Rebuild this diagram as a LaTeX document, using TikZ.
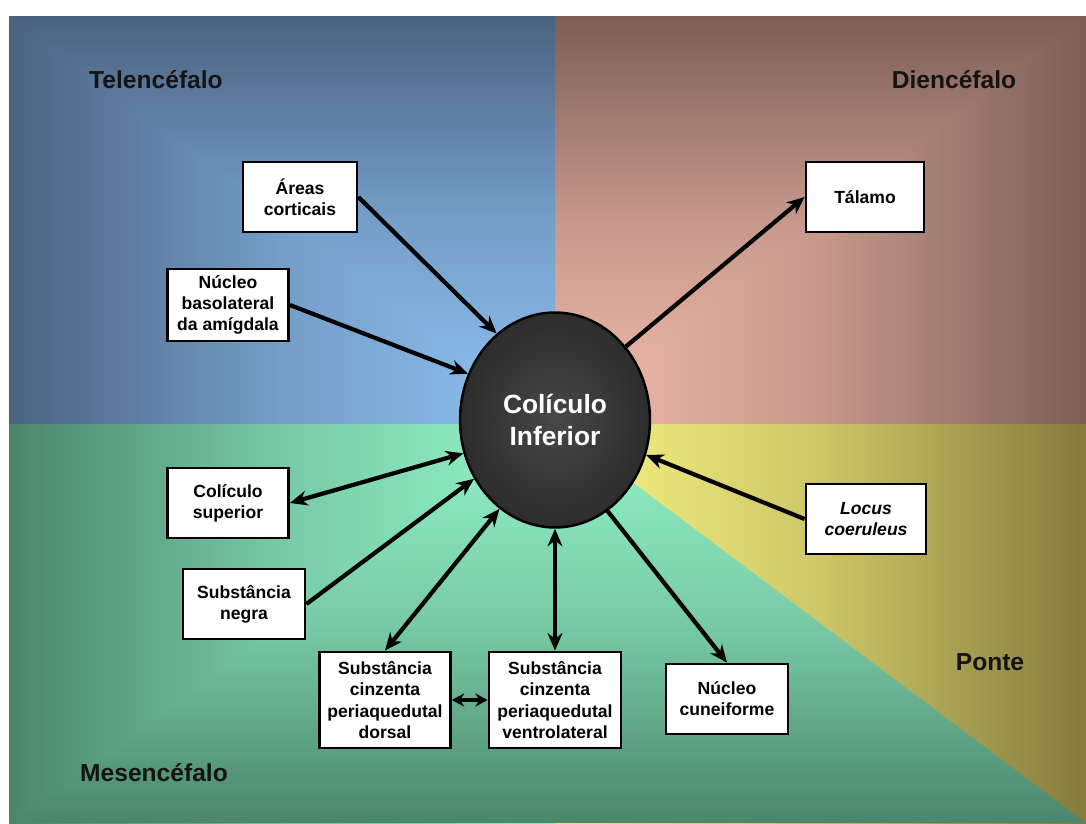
\documentclass[tikz,border=0pt]{standalone}
\usepackage{fontspec}
\setmainfont{Liberation Sans}
\usetikzlibrary{shapes}
\usetikzlibrary{arrows.meta}

\definecolor{telclaro}{HTML}{8FC3F4}
\definecolor{telescuro}{HTML}{4A6280}
\definecolor{dienclaro}{HTML}{F4BCAC}
\definecolor{dienescuro}{HTML}{7B5E56}
\definecolor{mesclaro}{HTML}{93F4C9}
\definecolor{mesescuro}{HTML}{4B866C}
\definecolor{ponclaro}{HTML}{F9F583}
\definecolor{ponescuro}{HTML}{847B3C}
\definecolor{rotulo}{HTML}{141414}

\pgfdeclareradialshading{bolafundo}{\pgfpoint{0bp}{0bp}}{color(0bp)=(black!72); color(50bp)=(black!93)}

\begin{document}
\begin{tikzpicture}[x=0.02cm,y=-0.02cm,>={Stealth[length=10pt,width=8.5pt]},
caixa/.style={rectangle,draw=black,line width=1.6pt,fill=white,align=center,inner sep=2pt,
  minimum height=1.4cm,font=\bfseries\fontsize{10}{12}\selectfont},
regiao/.style={text=rotulo,font=\bfseries\fontsize{14}{16}\selectfont},
bola/.style={ellipse,draw=black,line width=1.4pt,shading=bolafundo,inner sep=0pt,
  minimum width=3.8cm,minimum height=4.3cm,align=center,text=white,
  font=\bfseries\fontsize{15}{18}\selectfont}]

\useasboundingbox (0,0) rectangle (1086,823);
\fill[white] (0,0) rectangle (1086,823);

% fundo das regioes (gradiente a partir do centro)
\coordinate (c) at (555,424);
\shade[left color=telescuro,right color=telclaro,middle color=telclaro!62!telescuro] (9,16) rectangle (555,424);
\shade[top color=telescuro,bottom color=telclaro,middle color=telclaro!62!telescuro] (c)--(555,16)--(9,16)--cycle;
\shade[left color=dienclaro,right color=dienescuro,middle color=dienclaro!62!dienescuro] (555,16) rectangle (1086,424);
\shade[top color=dienescuro,bottom color=dienclaro,middle color=dienclaro!62!dienescuro] (c)--(555,16)--(1086,16)--cycle;
\shade[left color=mesescuro,right color=mesclaro,middle color=mesclaro!62!mesescuro] (9,424) rectangle (555,823);
\shade[top color=mesclaro,bottom color=mesescuro,middle color=mesclaro!62!mesescuro] (c)--(555,823)--(9,823)--cycle;
\shade[left color=ponclaro,right color=ponescuro,middle color=ponclaro!62!ponescuro] (555,424) rectangle (1086,823);
\shade[top color=mesclaro,bottom color=mesescuro,middle color=mesclaro!62!mesescuro] (c)--(555,823)--(1086,823)--cycle;

\node[regiao](tel) at (156,80){Telencéfalo};
\node[regiao](dien) at (954,80){Diencéfalo};
\node[regiao](mes) at (154,773){Mesencéfalo};
\node[regiao](pon) at (990,662){Ponte};

\node[bola](ci) at (555,420){Colículo\\Inferior};

\node[caixa,minimum width=2.28cm](areas) at (300,197){Áreas\\corticais};
\node[caixa,minimum width=2.42cm,minimum height=1.44cm](amig) at (228,305){Núcleo\\basolateral\\da amígdala};
\node[caixa,minimum width=2.36cm](talamo) at (865,197){Tálamo};
\node[caixa,minimum width=2.42cm](colsup) at (228,503){Colículo\\superior};
\node[caixa,minimum width=2.44cm](negra) at (244,604){Substância\\negra};
\node[caixa,minimum width=2.62cm,minimum height=1.92cm](dorsal) at (385,700){Substância\\cinzenta\\periaquedutal\\dorsal};
\node[caixa,minimum width=2.64cm,minimum height=1.92cm](ventro) at (555,700){Substância\\cinzenta\\periaquedutal\\ventrolateral};
\node[caixa,minimum width=2.44cm](cunei) at (727,699){Núcleo\\cuneiforme};
\node[caixa,minimum width=2.4cm](locus) at (866,519){\itshape Locus\\\itshape coeruleus};

\begin{scope}[->, line width=2.4pt]
\draw (areas.east)--(ci.124);
\draw (amig.east)--(ci.152);
\draw (ci.46)--(talamo.west);
\draw[<->] (colsup.east)--(ci.200);
\draw (negra.east)--(ci.216);
\draw[<->] (dorsal.north)--(ci.238);
\draw[<->] (ventro.north)--(ci.south);
\draw[<->,>={Stealth[length=7pt,width=7.5pt]}] (dorsal.east)--(ventro.west);
\draw (ci.300)--(cunei.north);
\draw (locus.west)--(ci.339);
\end{scope}
\end{tikzpicture}
\end{document}
